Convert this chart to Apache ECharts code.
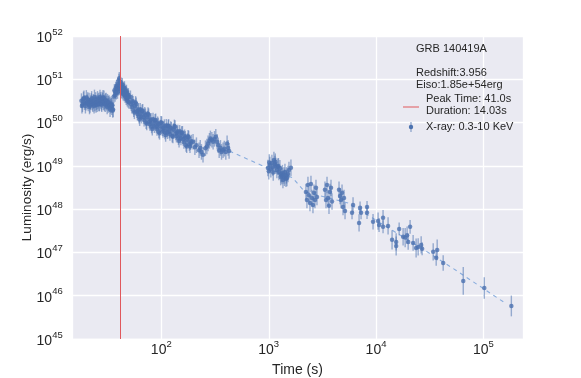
<!DOCTYPE html>
<html>
<head>
<meta charset="utf-8">
<script src="https://cdn.jsdelivr.net/npm/echarts@6/dist/echarts.min.js"></script>
<style>
html,body{margin:0;padding:0;background:#fff}
#main{width:581px;height:378px}
</style>
</head>
<body>
<div id="main"></div>
<script>
// prompt emission (before the flare)
var tPrompt = [18.0,18.2,18.4,18.8,19.0,19.2,19.6,19.8,20.0,20.4,20.6,20.8,21.2,21.4,21.6,22.0,22.2,22.4,22.8,23.0,23.2,23.6,23.8,24.0,24.4,24.6,24.8,25.2,25.4,25.6,26.0,26.2,26.4,26.8,27.0,27.2,27.6,27.8,28.0,28.4,28.6,28.8,29.2,29.4,29.6,30.0,30.25,30.5,31.0,31.25,31.5,32.0,32.25,32.5,33.0,33.25,33.5,34.0,34.25,34.5,35.0,35.25,35.5];
var lPrompt = [3.2e50,2.4e50,2.6e50,3.5e50,3.7e50,2.9e50,2.4e50,2.8e50,3.8e50,3.0e50,3.4e50,2.7e50,3.3e50,2.3e50,2.5e50,2.9e50,3.2e50,3.6e50,2.8e50,2.6e50,3.1e50,2.4e50,3.9e50,2.7e50,3.4e50,2.5e50,2.9e50,2.6e50,3.6e50,3.0e50,3.3e50,2.7e50,2.7e50,3.9e50,3.4e50,3.1e50,2.8e50,2.6e50,3.5e50,3.2e50,3.8e50,2.9e50,3.7e50,2.7e50,3.0e50,2.6e50,3.2e50,3.3e50,2.8e50,2.3e50,3.1e50,2.5e50,2.8e50,2.9e50,2.6e50,2.0e50,2.4e50,2.7e50,2.5e50,2.2e50,2.5e50,1.9e50,2.0e50];
var errPrompt = 0.17;

// flare around the peak
var tFlare = [36.0,36.5,37.0,37.25,37.5,38.0,38.25,38.5,39.0,39.25,39.5,40.0,40.25,40.5,41.0,41.25,41.5,42.0,42.25,42.5,43.0,43.25,43.5,44.0,44.25,44.5,45.0,45.25,45.5,46.0,46.25,46.5,47.0,47.25,47.5,48.0,48.25,48.5,49.0,49.25,49.5,50.0];
var lFlare = [4.0e50,5.5e50,4.3e50,5.0e50,6.2e50,4.8e50,7.0e50,6.8e50,5.0e50,6.0e50,7.8e50,6.0e50,9.5e50,1.05e51,6.2e50,8.8e50,8.0e50,5.2e50,6.0e50,7.0e50,5.0e50,7.6e50,6.5e50,4.6e50,5.3e50,6.0e50,4.4e50,6.4e50,5.6e50,4.0e50,4.6e50,5.0e50,3.6e50,5.3e50,4.6e50,3.3e50,3.8e50,4.4e50,3.1e50,4.4e50,3.9e50,2.9e50];
var errFlare = 0.15;

// steep decay
var tDecay = [51.5,52.2,53,53.7,54.5,55.2,56,56.7,57.5,58.2,59,59.7,60.5,61.2,62,62.7,63.5,64.2,65,66,67,68,69,70,71,72,73,74,75,76,77,78,79,80,81,82.2,83.5,84.7,86,87.2,88.5,89.7,91,92.2,93.5,94.7,96,97.5,99,100.5,102,103.5,105,106.5,108,109.5,111,112.5,114,115.5,117,118.5,120,122,124,126,128,130,132,134,136,138,140,142,144,146,148,150,152,154.5,157,159.5,162,164.5,167,169.5,172,174.5,177,179.5,182,184.5,187,190];
var lDecay = [3.9e50,2.65e50,2.3e50,3.15e50,2.9e50,1.9e50,1.7e50,2.4e50,2.9e50,2.7e50,1.8e50,1.58e50,1.85e50,2.0e50,1.35e50,1.18e50,2.0e50,1.62e50,1.35e50,1.85e50,1.9e50,1.32e50,1.15e50,1.63e50,1.5e50,1.0e50,9.4e49,1.32e50,1.6e50,1.51e50,1.03e50,9.1e49,1.08e50,1.18e50,8.0e49,7.1e49,1.2e50,9.7e49,8.1e49,1.12e50,1.14e50,8.0e49,7.0e49,9.8e49,9.1e49,6.1e49,5.7e49,8.2e49,1.0e50,9.9e49,6.9e49,6.3e49,7.6e49,8.4e49,5.8e49,5.1e49,8.6e49,7.1e49,5.9e49,8.3e49,8.5e49,6.1e49,5.4e49,7.6e49,7.3e49,4.9e49,4.7e49,6.8e49,8.3e49,8.0e49,5.5e49,4.9e49,5.8e49,6.3e49,4.3e49,3.75e49,6.2e49,5.1e49,4.25e49,5.8e49,5.9e49,4.1e49,3.5e49,4.9e49,4.5e49,3.0e49,2.8e49,4.0e49,4.8e49,4.6e49,3.15e49,2.8e49,3.3e49,3.7e49];
var errDecay = 0.15;

// end of first orbit
var tTail = [197,205,212,224,230,236,244,257,265,272,280,286,295,303,312,321,330,338,345,355,363,375,385,398,409,418,427];
var lTail = [3.6e49,2.7e49,3.0e49,2.3e49,2.6e49,2.1e49,1.8e49,2.55e49,2.8e49,3.3e49,3.8e49,4.3e49,4.0e49,3.6e49,4.2e49,4.7e49,3.6e49,3.0e49,2.3e49,2.6e49,2.1e49,2.3e49,2.5e49,2.1e49,3.3e49,2.6e49,2.2e49];
var errTail = 0.18;

// later orbits, dense clusters
var tOrbit = [981,1000,1010,1024,1045,1069,1090,1100,1116,1140,1150,1165,1190,1215,1230,1243,1269,1290,1300,1326,1340,1354,1385,1400,1414,1445,1460,1476,1510,1541,1608,
  2218,2266,2316,2367,2418,2470,2523,2578,2634,2691,2750,2810,
  3335,3411,3485,3558,3636,3716,3796,3878,
  4508,4610,4707,4810,4913,5020,5128];
var lOrbit = [8.9e48,7.5e48,1.2e49,1.05e49,8.3e48,1.17e49,9.2e48,7.0e48,1.37e49,1.1e49,1.25e49,1.0e49,8.0e48,9.5e48,9.8e48,7.2e48,8.8e48,5.5e48,6.4e48,5.8e48,6.8e48,4.7e48,6.0e48,5.3e48,7.2e48,5.0e48,6.0e48,5.25e48,6.5e48,8.0e48,9.0e48,
  2.5e48,1.63e48,3.6e48,2.1e48,1.39e48,3.8e48,1.8e48,1.25e48,2.4e48,1.63e48,3.1e48,1.9e48,
  2.8e48,1.63e48,3.6e48,1.8e48,1.2e48,2.5e48,3.1e48,1.5e48,
  2.8e48,2.0e48,1.63e48,2.4e48,1.12e48,1.8e48,9.1e47];
var errOrbit = 0.19;

// sparse late points
var tLate = [5960,6090,6930,7080,7230,8220,8220,9350,10420,10640,11590,11590,12910,14060,15350,15350,16370,17820,18620,19410,19860,20700,22080,23550,24600,26240,26790,33960,36220,36990,42070,64710,101600,181500];
var lLate = [8.2e47,1.25e48,4.8e47,1.07e48,8.2e47,1.12e48,8.2e47,5.1e47,5.3e47,4.3e47,6.3e47,3.9e47,4.1e47,1.95e47,1.75e47,1.41e47,3.5e47,2.3e47,2.2e47,2.5e47,1.75e47,3.9e47,1.66e47,1.27e47,1.34e47,1.49e47,1.21e47,1.03e47,7.5e46,1.14e47,5.7e46,2.2e46,1.51e46,5.8e45];
var errLate = [0.15,0.18,0.2,0.15,0.15,0.14,0.14,0.18,0.2,0.16,0.18,0.15,0.2,0.22,0.2,0.22,0.15,0.2,0.22,0.2,0.18,0.16,0.18,0.22,0.2,0.2,0.15,0.2,0.18,0.24,0.18,0.32,0.25,0.24];

// fitted model (dashed)
var tModel = [430,1070,1670,2170,5470,9160,29900,51100,153000];
var lModel = [2.2e49,8.0e48,5.3e48,2.5e48,1.39e48,6.3e47,1.03e47,4.4e46,7.2e45];

var peakTime = 41.0;

var FONT = '"Liberation Sans", Arial, Helvetica, sans-serif';
var BLUE = '#4C72B0';
var BAR = 'rgba(76,114,176,0.55)';
var RED = '#E0585C';
var TXT = '#262626';

function bars(ts, ls, err) {
    var out = [];
    for (var i = 0; i < ts.length; i++) {
        var e = Array.isArray(err) ? err[i] : err;
        out.push([ts[i], ls[i] / Math.pow(10, e), ls[i] * Math.pow(10, e)]);
    }
    return out;
}
function pts(ts, ls) {
    var out = [];
    for (var i = 0; i < ts.length; i++) out.push([ts[i], ls[i]]);
    return out;
}

var errData = [].concat(
    bars(tPrompt, lPrompt, errPrompt),
    bars(tFlare, lFlare, errFlare),
    bars(tDecay, lDecay, errDecay),
    bars(tTail, lTail, errTail),
    bars(tOrbit, lOrbit, errOrbit),
    bars(tLate, lLate, errLate)
);
var ptData = [].concat(
    pts(tPrompt, lPrompt), pts(tFlare, lFlare), pts(tDecay, lDecay),
    pts(tTail, lTail), pts(tOrbit, lOrbit), pts(tLate, lLate)
);

// 10^n tick labels: exponent raised with a tall invisible strut token
function powLabel(v) {
    var e = Math.round(Math.log(v) / Math.LN10);
    return '{b|10}{s|' + e + '}{h| }';
}
var rich = {
    b: {fontSize: 14, lineHeight: 14, verticalAlign: 'bottom', color: TXT, fontFamily: FONT},
    s: {fontSize: 9.5, lineHeight: 10, verticalAlign: 'top', color: TXT, fontFamily: FONT},
    h: {fontSize: 1, lineHeight: 18, color: 'rgba(0,0,0,0)'}
};

var myChart = echarts.init(document.getElementById('main'));

var option = {
    animation: false,
    grid: {
        left: 72, right: 58, top: 36, bottom: 39,
        outerBoundsMode: 'none',
        show: true, backgroundColor: '#EAEAF2', borderWidth: 0
    },
    xAxis: {
        type: 'log', logBase: 10,
        min: 14.7, max: 233000,
        name: 'Time (s)', nameLocation: 'middle', nameGap: 24, nameMoveOverlap: false,
        nameTextStyle: {fontSize: 14, color: TXT, fontFamily: FONT},
        axisLine: {show: false}, axisTick: {show: false},
        axisLabel: {
            margin: 0, showMinLabel: false, showMaxLabel: false,
            formatter: powLabel, rich: rich
        },
        splitLine: {show: true, lineStyle: {color: '#ffffff', width: 1.3}}
    },
    yAxis: {
        type: 'log', logBase: 10,
        min: 1e45, max: 1e52,
        name: 'Luminosity (erg/s)', nameLocation: 'middle', nameGap: 38, nameMoveOverlap: false,
        nameTextStyle: {fontSize: 13.5, color: TXT, fontFamily: FONT},
        axisLine: {show: false}, axisTick: {show: false},
        axisLabel: {margin: 9, formatter: powLabel, rich: rich},
        splitLine: {show: true, lineStyle: {color: '#ffffff', width: 1.3}}
    },
    series: [
        {
            type: 'line',
            data: pts(tModel, lModel),
            showSymbol: false, silent: true, z: 1,
            lineStyle: {color: '#88ACDD', width: 1.1, type: [4, 4]}
        },
        {
            type: 'custom',
            data: errData,
            encode: {x: 0, y: [1, 2]},
            silent: true, z: 2,
            renderItem: function (params, api) {
                var p1 = api.coord([api.value(0), api.value(1)]);
                var p2 = api.coord([api.value(0), api.value(2)]);
                return {
                    type: 'line',
                    shape: {x1: p1[0], y1: p1[1], x2: p2[0], y2: p2[1]},
                    style: {stroke: BAR, lineWidth: 1.4}
                };
            }
        },
        {
            type: 'scatter',
            data: ptData,
            symbolSize: 4.5, z: 3,
            itemStyle: {color: BLUE},
            markLine: {
                silent: true,
                symbol: ['none', 'none'],
                label: {show: false},
                lineStyle: {color: RED, width: 1, type: 'solid'},
                data: [{xAxis: peakTime}]
            }
        }
    ],
    graphic: [
        {type: 'text', z: 100, x: 416, y: 49, style: {text: 'GRB 140419A', fontSize: 11, fontFamily: FONT, fill: TXT, verticalAlign: 'middle'}},
        {type: 'text', z: 100, x: 416, y: 73, style: {text: 'Redshift:3.956', fontSize: 11, fontFamily: FONT, fill: TXT, verticalAlign: 'middle'}},
        {type: 'text', z: 100, x: 416, y: 85, style: {text: 'Eiso:1.85e+54erg', fontSize: 11, fontFamily: FONT, fill: TXT, verticalAlign: 'middle'}},
        {type: 'text', z: 100, x: 426, y: 99, style: {text: 'Peak Time: 41.0s', fontSize: 11, fontFamily: FONT, fill: TXT, verticalAlign: 'middle'}},
        {type: 'text', z: 100, x: 426, y: 111, style: {text: 'Duration: 14.03s', fontSize: 11, fontFamily: FONT, fill: TXT, verticalAlign: 'middle'}},
        {type: 'text', z: 100, x: 426, y: 127, style: {text: 'X-ray: 0.3-10 KeV', fontSize: 11, fontFamily: FONT, fill: TXT, verticalAlign: 'middle'}},
        {type: 'line', z: 100, shape: {x1: 403, y1: 107, x2: 419, y2: 107}, style: {stroke: RED, lineWidth: 1}},
        {type: 'line', z: 100, shape: {x1: 411, y1: 122, x2: 411, y2: 132}, style: {stroke: BAR, lineWidth: 1.4}},
        {type: 'circle', z: 100, shape: {cx: 411, cy: 127, r: 2.2}, style: {fill: BLUE}}
    ]
};

if (option && typeof option === "object") {
    myChart.setOption(option, true);
}
</script>
</body>
</html>
